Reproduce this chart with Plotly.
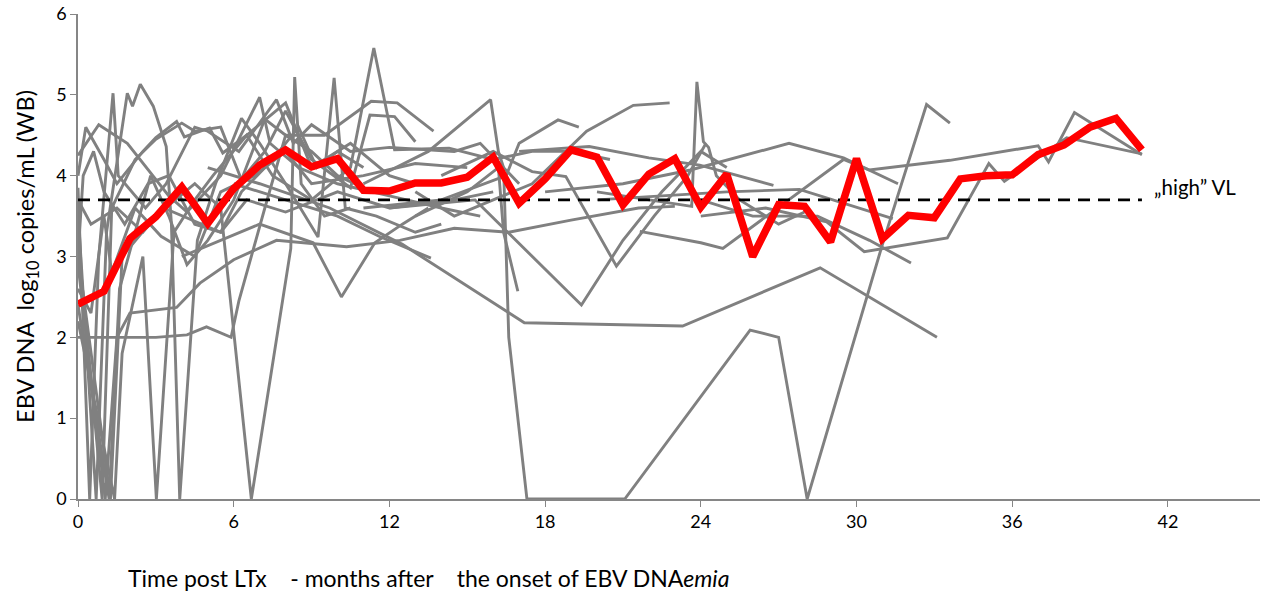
import plotly.graph_objects as go

# ---------------- data ----------------
mean_months = list(range(0, 42))
mean_values = [2.41, 2.57, 3.22, 3.49, 3.86, 3.41, 3.84, 4.13, 4.32, 4.11,
               4.21, 3.82, 3.81, 3.91, 3.91, 3.98, 4.23, 3.66, 3.96, 4.32,
               4.23, 3.64, 4.02, 4.21, 3.61, 4.02, 3.00, 3.64, 3.62, 3.18,
               4.21, 3.22, 3.51, 3.48, 3.96, 4.00, 4.01, 4.26, 4.38, 4.60,
               4.71, 4.32]

high_vl = 3.7
high_vl_months = [0, 41]

x_ticks = [0, 6, 12, 18, 24, 30, 36, 42]
y_ticks = [0, 1, 2, 3, 4, 5, 6]

p01 = [(0, 4.25), (0.8, 4.63), (1.9, 4.4), (2.4, 4.2), (3.5, 3.75), (4.2, 3.55), (5.5, 4.0),
       (7.0, 4.97), (7.4, 4.4), (8.5, 4.1), (10, 3.9), (12, 3.75), (14, 3.6), (15.5, 3.5)]
p02 = [(0, 3.85), (0.45, 0), (0.8, 3.0), (1.35, 5.02), (1.55, 4.0), (2.6, 3.6), (3.4, 3.9),
       (4.5, 4.6), (5.0, 4.55), (6.2, 4.3), (7.65, 4.94), (8.3, 4.4), (9.0, 4.63), (10.5, 4.3),
       (12, 4.35), (14.5, 4.3), (15.5, 4.4), (17, 3.9)]
p03 = [(0, 3.55), (0.7, 0), (1.1, 3.3), (1.9, 5.02), (2.1, 4.86), (2.4, 5.13), (2.9, 4.86),
       (3.4, 4.36), (3.6, 3.4), (3.92, 0), (4.6, 3.2), (5.3, 3.9), (6.3, 4.71), (7, 4.4), (8, 3.9),
       (9.25, 3.24), (9.87, 5.21), (10.3, 3.6), (11.5, 3.5), (13, 3.3), (14, 3.4)]
p04 = [(0, 3.2), (0.93, 0), (1.3, 3.6), (2.2, 4.2), (3.0, 4.45), (4.0, 4.65), (4.5, 4.55),
       (5.5, 4.6), (6.3, 3.95), (7.2, 4.3), (8, 4.8), (9, 4.2), (10.5, 3.85), (11.25, 4.75),
       (12.2, 4.73), (13.0, 4.42)]
p05 = [(0, 2.4), (1.2, 0), (1.6, 2.6), (2.8, 4.0), (3.5, 3.5), (4.2, 2.9), (5, 3.2), (6, 3.7),
       (7.2, 4.7), (8, 4.5), (9.5, 4.5), (11.3, 4.92), (12.3, 4.9), (13.7, 4.55)]
p06 = [(0, 2.2), (1.41, 0), (1.7, 1.8), (2.5, 3.0), (3.02, 0), (3.7, 3.3), (4.5, 3.7), (5.2, 4.0),
       (6.5, 4.5), (7.5, 4.0), (9, 3.7), (10.5, 4.1), (11.4, 5.58), (12.2, 4.32), (14.3, 4.34),
       (16, 4.2), (17.5, 4.3), (19, 4.3), (20.5, 4.2)]
p07 = [(0, 2.0), (1.35, 2.0), (3.0, 2.0), (4.2, 2.03), (4.95, 2.13), (5.9, 2.0), (6.2, 2.45),
       (7.2, 3.6), (8.0, 4.5), (9, 4.3), (10, 4.0), (11, 3.85)]
p08 = [(0, 2.9), (1.05, 0), (1.5, 2.0), (2.0, 2.3), (3.8, 2.37), (4.7, 2.67), (6.0, 2.96),
       (7.65, 3.2), (10.35, 3.12), (12.4, 3.2), (14.5, 3.35), (16.6, 3.3), (19, 3.45),
       (21.6, 3.6), (23, 3.62)]
p09 = [(0, 3.0), (0.3, 2.3), (1.25, 0), (1.7, 3.0), (3, 3.5), (4.5, 3.9), (5.5, 3.6), (6.68, 0),
       (8.2, 3.1), (8.35, 5.22), (8.6, 3.9), (9.5, 3.5), (10.5, 3.6)]
p10 = [(4, 3.0), (7, 3.4), (9.06, 3.17), (10.15, 2.5), (11.44, 3.17), (12.5, 3.4), (13.5, 3.6)]
p11 = [(5, 4.1), (7, 3.9), (9.7, 3.6), (12.5, 3.15), (17.2, 2.18), (23.3, 2.14), (28.6, 2.86),
       (33.1, 2.0)]
p12 = [(11, 3.9), (13.5, 4.3), (15.9, 4.94), (16.2, 4.3), (16.4, 4.1), (16.6, 2.0), (17.3, 0),
       (21.07, 0), (25.9, 2.09), (27.0, 2.0), (28.1, 0), (31.0, 3.15), (32.7, 4.88), (33.6, 4.65)]
p13 = [(13, 3.5), (15, 3.8), (16.2, 4.1), (16.4, 3.3), (16.95, 2.57)]
p14 = [(12, 3.6), (15.3, 3.7), (19.4, 2.4), (21, 3.2), (22.5, 3.8), (24, 4.3), (25, 4.1)]
p15 = [(14, 4.0), (16, 4.3), (17.5, 4.05), (18.8, 3.99), (20.75, 2.88), (22.2, 3.5), (23.5, 4.0),
       (24.2, 4.4)]
p16 = [(13, 3.8), (14.5, 3.5), (17.5, 3.9), (19.6, 4.55), (21.4, 4.87), (22.8, 4.9)]
p17 = [(20, 3.8), (22, 3.7), (23.65, 3.62), (23.85, 5.16), (24.1, 4.42), (24.3, 4.35), (24.6, 4.0),
       (25.5, 3.7), (27, 3.4), (28, 3.55)]
p18 = [(17, 4.3), (19.7, 4.36), (22.0, 4.22), (23.96, 4.13), (26.8, 3.88)]
p19 = [(18, 3.8), (21, 3.9), (23.6, 4.07), (27.4, 4.4), (29.5, 4.22), (31.6, 3.9)]
p20 = [(20, 3.7), (25, 3.8), (27.8, 3.83), (31.4, 3.47)]
p21 = [(24, 3.7), (26, 3.5), (28.5, 3.5), (30.5, 3.2), (32.1, 2.92)]
p22 = [(24, 3.5), (26.5, 3.6), (28.85, 3.43), (30.3, 3.06), (33.5, 3.23), (35.1, 4.15),
       (35.7, 3.93), (38.1, 4.47), (41, 4.27)]
p23 = [(21.65, 3.31), (24, 3.17), (24.85, 3.1), (29.5, 4.2), (30.5, 4.07), (33.6, 4.19),
       (37, 4.37), (37.4, 4.17), (38.4, 4.78), (41, 4.26)]
p24 = [(11, 3.6), (14, 3.7), (16.5, 4.0), (17, 4.4), (18.5, 4.69), (19.3, 4.6)]
p25 = [(6, 3.9), (8, 3.7), (10, 3.5), (11.6, 3.25), (13.6, 2.98)]
p26 = [(0, 3.7), (0.5, 3.4), (1.5, 3.6), (2.5, 3.3), (3.3, 3.6), (5.5, 3.3), (6.5, 3.7), (8, 3.55),
       (10, 3.8), (12, 3.6), (14.5, 3.7), (16, 3.8)]
p27 = [(0, 4.0), (0.3, 4.6), (1.0, 4.2), (1.5, 3.9), (2.5, 4.3), (3.0, 4.47), (3.8, 4.67),
       (4.1, 4.48), (5.07, 4.59), (5.58, 4.28), (6.5, 4.5), (8, 4.9), (9, 4.1), (10.5, 4.4),
       (12, 4.0), (13, 3.9)]
p28 = [(0, 3.0), (0.2, 4.0), (0.6, 4.3), (1.0, 3.8), (1.8, 3.4), (2.7, 3.9), (3.5, 4.0), (4.5, 3.4),
       (5.5, 3.3), (6.3, 3.8), (7.5, 4.2), (8.5, 4.6), (9.2, 4.1), (10, 4.3), (11, 4.1)]
p29 = [(0, 2.6), (0.5, 2.3), (1.0, 3.5), (1.3, 2.8), (2.2, 3.6), (3.2, 3.25), (4.5, 3.0),
       (5.5, 3.8), (6.8, 4.0), (8.0, 4.3), (9.0, 3.9), (11, 4.0), (13, 4.15), (15, 4.1)]

patients = [p01, p02, p03, p04, p05, p06, p07, p08, p09, p10, p11, p12, p13, p14, p15,
            p16, p17, p18, p19, p20, p21, p22, p23, p24, p25, p26, p27, p28, p29]

# ---------------- figure ----------------
fig = go.Figure()

for p in patients:
    fig.add_trace(go.Scatter(
        x=[pt[0] for pt in p], y=[pt[1] for pt in p],
        mode="lines", line=dict(color="#808080", width=2.9),
        hoverinfo="skip", showlegend=False))

fig.add_trace(go.Scatter(
    x=high_vl_months, y=[high_vl, high_vl], mode="lines",
    line=dict(color="#000000", width=2.8, dash="12px,8px"),
    showlegend=False, hoverinfo="skip"))

fig.add_trace(go.Scatter(
    x=mean_months, y=mean_values, mode="lines",
    line=dict(color="#FF0000", width=7.5),
    showlegend=False))

font_family = "Lato, Open Sans, sans-serif"

fig.add_annotation(
    x=41.4, y=3.86, xref="x", yref="y", text="\u201ehigh\u201d VL",
    showarrow=False, xanchor="left", yanchor="middle",
    font=dict(family=font_family, size=20.5, color="#000000"))

fig.add_annotation(
    x=(126 - 78.3) / 1181.7, y=(499.4 - 578) / 485.4, xref="paper", yref="paper",
    text=("Time post LTx\u00a0\u00a0\u00a0\u00a0- months after\u00a0\u00a0\u00a0\u00a0"
          "the onset of EBV DNA<i>emia</i>"),
    showarrow=False, xanchor="left", yanchor="middle",
    font=dict(family=font_family, size=23, color="#000000"))

fig.update_layout(
    width=1264, height=593,
    margin=dict(l=78.3, r=4, t=14, b=93.6),
    paper_bgcolor="white", plot_bgcolor="white",
    font=dict(family=font_family, size=18, color="#000000"),
    xaxis=dict(range=[0, 45.55], tickvals=x_ticks, ticks="outside", ticklen=6,
               tickcolor="#868686", showline=True, linecolor="#868686", linewidth=1.5,
               showgrid=False, zeroline=False, tickfont=dict(size=18), automargin=False),
    yaxis=dict(range=[0, 6], tickvals=y_ticks, ticks="outside", ticklen=6,
               tickcolor="#868686", showline=True, linecolor="#868686", linewidth=1.5,
               showgrid=False, zeroline=False, tickfont=dict(size=18), automargin=False,
               title=dict(text="EBV DNA\u00a0 log<sub>10</sub> copies/mL (WB)",
                          font=dict(size=23.5), standoff=15)),
)

fig.write_html("out.html",
               config={"displayModeBar": False},
               post_script="document.body.style.margin='0';document.body.style.overflow='hidden';")
